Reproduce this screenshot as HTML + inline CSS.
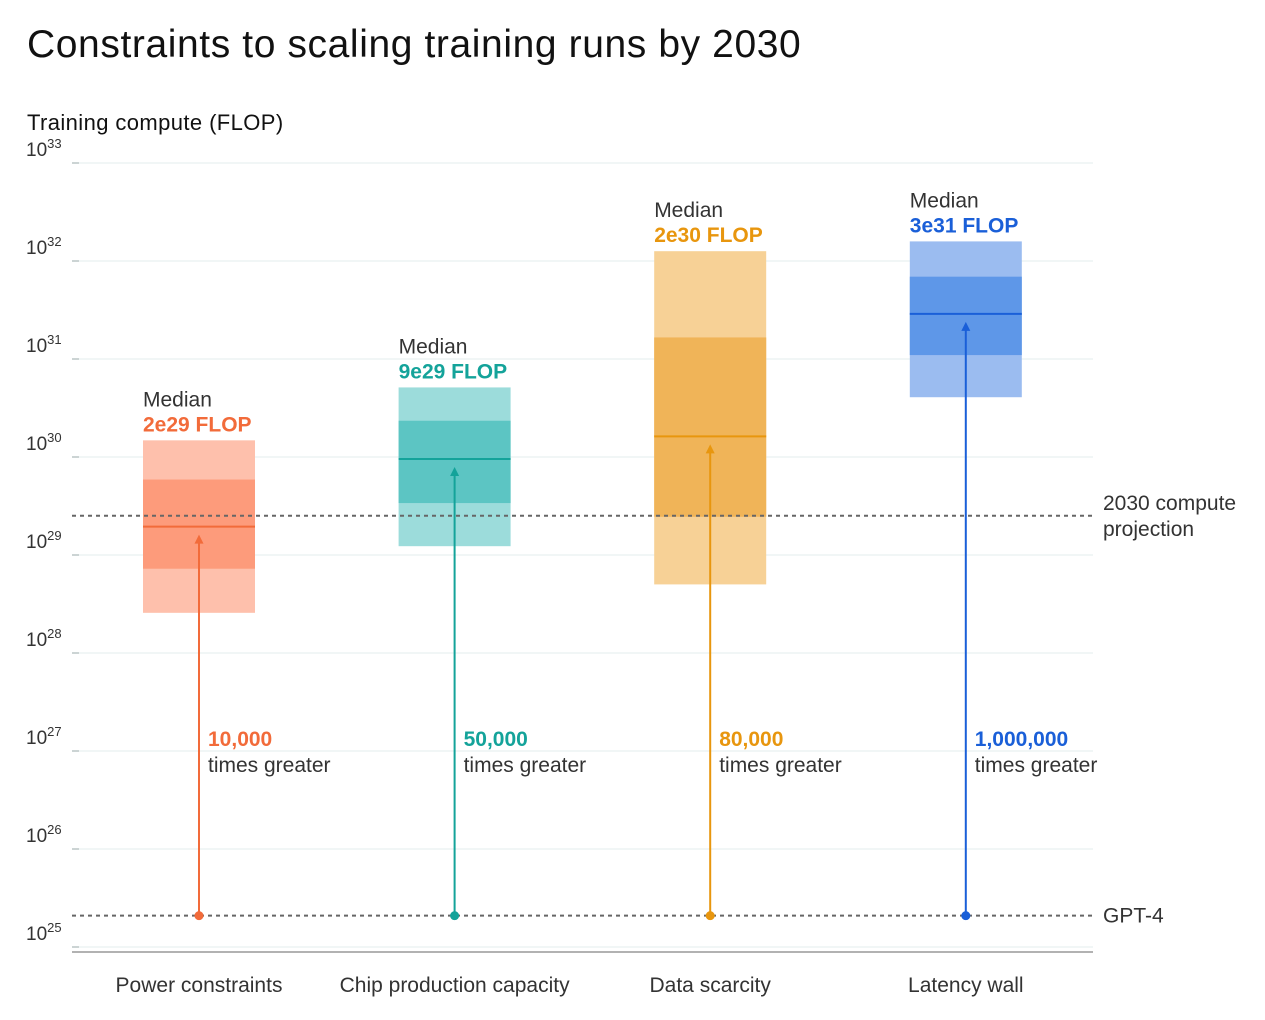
<!DOCTYPE html>
<html><head><meta charset="utf-8"><style>
body{margin:0;background:#fff;width:1265px;height:1015px;overflow:hidden;font-family:"Liberation Sans",sans-serif}
</style></head><body>
<svg id="chart" width="1265" height="1015" xmlns="http://www.w3.org/2000/svg" font-family="Liberation Sans, sans-serif">
<text x="27" y="57" font-size="39" letter-spacing="0.6" fill="#111">Constraints to scaling training runs by 2030</text>
<text x="27" y="130" font-size="22" letter-spacing="0.4" fill="#111">Training compute (FLOP)</text>
<g id="grid"></g><g id="marks"></g>
</svg>
<script>
const categories=["Power constraints","Chip production capacity","Data scarcity","Latency wall"];
const outerLo=[28.41,29.09,28.70,30.61];
const outerHi=[30.17,30.71,32.10,32.20];
const innerLo=[28.86,29.53,29.39,31.04];
const innerHi=[29.77,30.37,31.22,31.84];
const medians=[29.29,29.98,30.21,31.46];
const medianLabels=["2e29 FLOP","9e29 FLOP","2e30 FLOP","3e31 FLOP"];
const multipliers=["10,000","50,000","80,000","1,000,000"];
const yTicks=[25,26,27,28,29,30,31,32,33];
const projection2030=29.40;
const gpt4=25.32;
const colors=["#f26b3a","#14a39a","#e8960e","#1a5fd8"];
const outerC=["#fec0ac","#9cdcdb","#f7d196","#9bbcf0"];
const innerC=["#fd9b7b","#5cc5c3","#f0b458","#5e97e8"];
const NS="http://www.w3.org/2000/svg";
const X0=72,X1=1093;
function y(v){return 947-98*(v-25);}
function x(i){return 199+i*255.6;}
const grid=document.getElementById('grid'),marks=document.getElementById('marks');
function mk(tag,attrs,parent,text){const e=document.createElementNS(NS,tag);for(const k in attrs)e.setAttribute(k,attrs[k]);if(text!==undefined)e.textContent=text;parent.appendChild(e);return e;}
yTicks.forEach(t=>{
 const g=mk('line',{x1:X0,x2:X1,y1:y(t),y2:y(t),stroke:'#e3eeee','stroke-width':1},grid);
 
 
 const tk=mk('line',{x1:X0,x2:79,y1:y(t),y2:y(t),stroke:'#9aa','stroke-width':1},grid);
 
 
 const tx=mk('text',{x:26,y:y(t)-7,'font-size':19,fill:'#333'},grid);
 
 
 mk('tspan',{},tx,'10');mk('tspan',{dy:-8,'font-size':13},tx,String(t));
});
const ax=mk('line',{x1:X0,x2:X1,y1:952,y2:952,stroke:'#999','stroke-width':1.5},grid);


categories.forEach((c,i)=>{
 const cx=x(i),w=112,l=cx-56;
 const o=mk('rect',{x:l,y:y(outerHi[i]),width:w,height:y(outerLo[i])-y(outerHi[i]),fill:outerC[i]},marks);
 
 
 const n=mk('rect',{x:l,y:y(innerHi[i]),width:w,height:y(innerLo[i])-y(innerHi[i]),fill:innerC[i]},marks);
 
 
 const m=mk('line',{x1:l,x2:l+w,y1:y(medians[i]),y2:y(medians[i]),stroke:colors[i],'stroke-width':2},marks);
 
 
 const t1=mk('text',{x:l,y:y(outerHi[i])-34,'font-size':21,fill:'#333'},marks,'Median');
 
 
 const t2=mk('text',{x:l,y:y(outerHi[i])-9,'font-size':21,'font-weight':'bold',fill:colors[i]},marks,medianLabels[i]);
 
 
 const ty=y(medians[i])+8;
 const ar=mk('line',{x1:cx,x2:cx,y1:y(gpt4),y2:ty+6,stroke:colors[i],'stroke-width':2},marks);
 
 
 const hd=mk('polygon',{points:`${cx-4.5},${ty+9} ${cx+4.5},${ty+9} ${cx},${ty}`,fill:colors[i]},marks);
 
 
 const d=mk('circle',{cx:cx,cy:y(gpt4),r:4.5,fill:colors[i]},marks);
 
 
 const a1=mk('text',{x:cx+9,y:746,'font-size':21,'font-weight':'bold',fill:colors[i]},marks,multipliers[i]);
 
 
 const a2=mk('text',{x:cx+9,y:772,'font-size':21,fill:'#333'},marks,'times greater');
 
 
 const cl=mk('text',{x:cx,y:992,'font-size':21,fill:'#333','text-anchor':'middle'},marks,c);
 
 
});
[[projection2030,['2030 compute','projection'],'projection-line'],[gpt4,['GPT-4'],'gpt4-line']].forEach(([v,lbl,nm])=>{
 const l=mk('line',{x1:X0,x2:X1,y1:y(v),y2:y(v),stroke:'#666','stroke-width':2,'stroke-dasharray':'4 4'},marks);
 
 
 lbl.forEach((s,k)=>{
  const t=mk('text',{x:1103,y:y(v)+7-(lbl.length>1?13:0)+k*26,'font-size':21,fill:'#333'},marks,s);
  
  
 });
});
marks.querySelectorAll('circle').forEach(c=>marks.appendChild(c));
</script>
</body></html>
